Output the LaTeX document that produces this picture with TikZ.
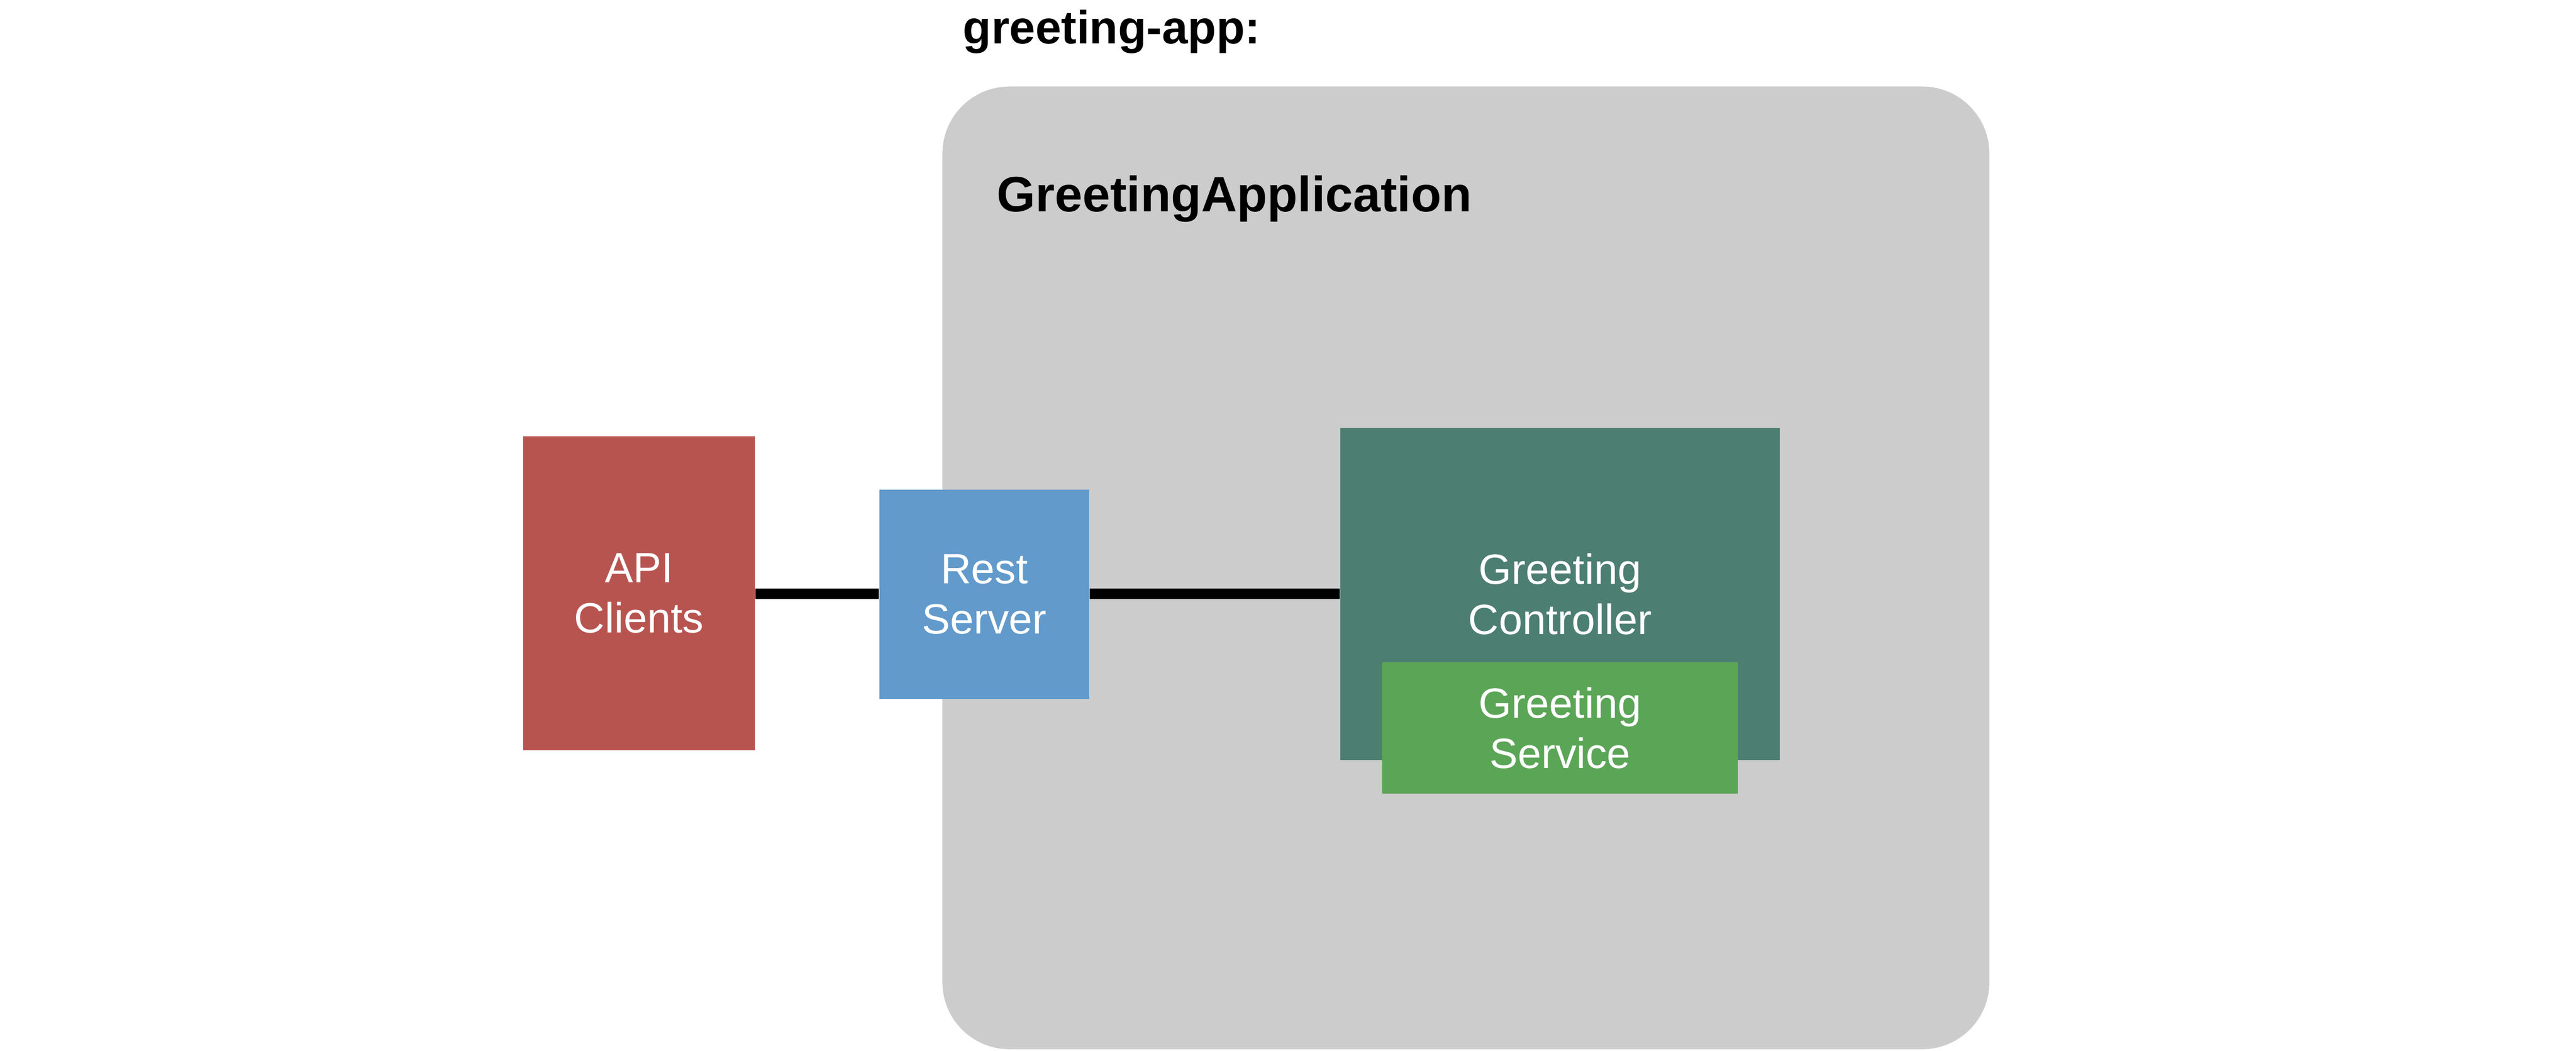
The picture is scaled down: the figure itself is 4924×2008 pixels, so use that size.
\documentclass[tikz,border=0pt]{standalone}
\usepackage{fontspec}
\setmainfont{Liberation Sans}
\definecolor{appgray}{HTML}{CCCCCC}
\definecolor{clientred}{HTML}{B85450}
\definecolor{serverblue}{HTML}{619ACB}
\definecolor{ctrlgreen}{HTML}{4C7E72}
\definecolor{svcgreen}{HTML}{5BA557}
\begin{document}
\begin{tikzpicture}[x=0.01cm, y=-0.01cm,
		box/.style={rectangle, inner sep=0pt, text=white, align=center, font=\fontsize{23}{27.3}\selectfont},
		title/.style={anchor=base west, inner sep=0pt, font=\bfseries\fontsize{25.3}{30}\selectfont},
		link/.style={line width=0.2cm}]
		\useasboundingbox (0,0) rectangle (4924,2008);
		\fill[white] (0,0) rectangle (4924,2008);
		\node[title] (apptitle) at (1840,83) {greeting-app:};
		\node[rectangle, fill=appgray, rounded corners=1.28cm, minimum width=20cm, minimum height=18.39cm] (app) at (2802,1085.5) {};
		\node[title, font=\bfseries\fontsize{27}{32}\selectfont] (appname) at (1905,404) {GreetingApplication};
		\node[box, fill=clientred, minimum width=4.43cm, minimum height=6cm] (clients) at (1221.5,1134) {API\\Clients};
		\node[box, fill=serverblue, minimum width=4.01cm, minimum height=4cm] (rest) at (1881.5,1136) {Rest\\Server};
		\node[box, fill=ctrlgreen, minimum width=8.4cm, minimum height=6.35cm] (ctrl) at (2982,1135.5) {Greeting\\Controller};
		\node[box, fill=svcgreen, minimum width=6.8cm, minimum height=2.51cm] (svc) at (2982,1391.5) {Greeting\\Service};
		\draw[link] (clients.east |- 0,1135) -- (rest.west |- 0,1135);
		\draw[link] (rest.east |- 0,1135) -- (ctrl.west |- 0,1135);
	\end{tikzpicture}
\end{document}
